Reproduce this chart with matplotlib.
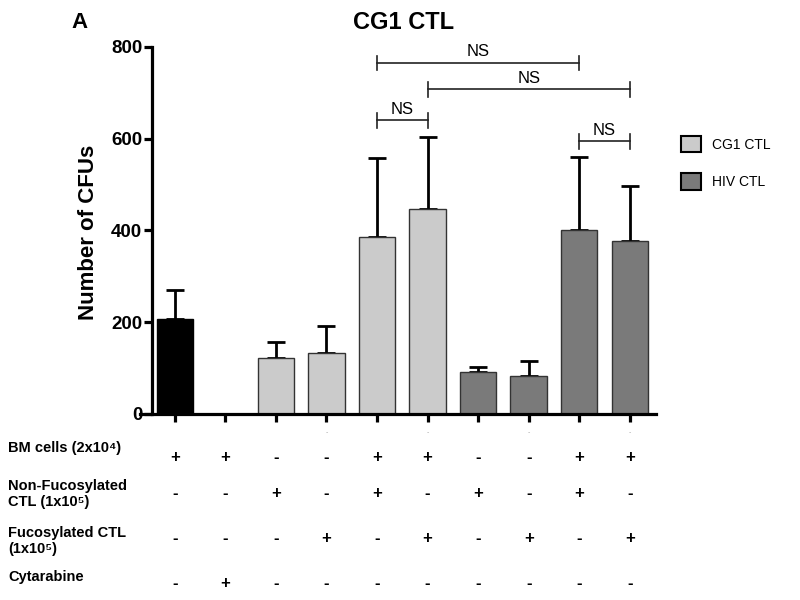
import matplotlib
matplotlib.use('Agg')
import matplotlib.pyplot as plt
import matplotlib.transforms as mtransforms
from matplotlib.patches import Patch
import numpy as np

plt.rcParams['font.family'] = ['Liberation Sans', 'DejaVu Sans']

# datos
medias = [208, 0, 122, 132, 386, 446, 92, 82, 400, 378]
errores = [63, 0, 36, 59, 172, 157, 10, 33, 161, 120]
grupos = ['ctrl', 'ctrl', 'CG1 CTL', 'CG1 CTL', 'CG1 CTL', 'CG1 CTL',
          'HIV CTL', 'HIV CTL', 'HIV CTL', 'HIV CTL']
colores = {'ctrl': '#000000', 'CG1 CTL': '#cbcbcb', 'HIV CTL': '#7a7a7a'}

# comparaciones (barra i, barra j, altura)
comparaciones = [(4, 8, 765, 'NS'), (5, 9, 708, 'NS'),
                 (4, 5, 640, 'NS'), (8, 9, 594, 'NS')]

filas = ['BM cells (2x10⁴)', 'Non-Fucosylated\nCTL (1x10⁵)',
         'Fucosylated CTL\n(1x10⁵)', 'Cytarabine']
signos = [
    ['+', '+', '-', '-', '+', '+', '-', '-', '+', '+'],
    ['-', '-', '+', '-', '+', '-', '+', '-', '+', '-'],
    ['-', '-', '-', '+', '-', '+', '-', '+', '-', '+'],
    ['-', '+', '-', '-', '-', '-', '-', '-', '-', '-'],
]
y_filas = [0.253, 0.177, 0.099, 0.038]
y_signos = [0.237, 0.178, 0.103, 0.028]

fig = plt.figure(figsize=(8, 6), dpi=100)
ax = fig.add_axes([0.175, 0.31, 0.645, 0.6117])

x = np.arange(len(medias))
for i in x:
    c = colores[grupos[i]]
    ax.bar(i, medias[i], width=0.72, color=c,
           edgecolor='#000000' if grupos[i] == 'ctrl' else '#333333', linewidth=1.0, zorder=2)
    if errores[i] > 0:
        ax.errorbar(i, medias[i], yerr=[[0], [errores[i]]], fmt='none', ecolor='black',
                    elinewidth=2, capsize=6.5, capthick=2, zorder=1)

ax.set_xlim(-0.69, 9.52)
ax.set_ylim(0, 800)
ax.set_yticks([0, 200, 400, 600, 800])
ax.set_xticks(x)
ax.set_xticklabels([])
ax.spines['top'].set_visible(False)
ax.spines['right'].set_visible(False)
ax.spines['left'].set_position(('data', -0.455))
ax.spines['left'].set_linewidth(2.3)
ax.spines['bottom'].set_linewidth(2.3)
ax.tick_params(axis='y', length=6, width=2.3, labelsize=13.5, pad=1)
ax.tick_params(axis='x', length=6, width=2.3)
for t in ax.get_yticklabels():
    t.set_fontweight('bold')
ax.set_ylabel('Number of CFUs', fontsize=16, fontweight='bold')
ax.yaxis.set_label_coords(-0.079, 0.495)

# corchetes NS
for i, j, h, txt in comparaciones:
    ax.plot([i, j], [h, h], color='#222222', lw=1.2, clip_on=False)
    for k in (i, j):
        ax.plot([k, k], [h - 16, h + 16], color='#222222', lw=1.2, clip_on=False)
    ax.text((i + j) / 2, h + 8, txt, ha='center', va='bottom', fontsize=12)

# marcas grises bajo los ticks
for k in (3, 5, 7, 9):
    ax.text(k, -40, '-', ha='center', va='center', fontsize=5, color='#aaaaaa')

fig.text(0.505, 0.962, 'CG1 CTL', ha='center', va='center', fontsize=17, fontweight='bold')
fig.text(0.1, 0.962, 'A', ha='center', va='center', fontsize=16, fontweight='bold')

leyenda = [Patch(facecolor=colores['CG1 CTL'], edgecolor='black', linewidth=1.5, label='CG1 CTL'),
           Patch(facecolor=colores['HIV CTL'], edgecolor='black', linewidth=1.5, label='HIV CTL')]
fig.legend(handles=leyenda, loc='upper left', bbox_to_anchor=(0.835, 0.795), frameon=False,
           fontsize=10, handlelength=1.5, handleheight=1.5, labelspacing=1.5, handletextpad=0.8)

# tabla de condiciones
trans = mtransforms.blended_transform_factory(ax.transData, fig.transFigure)
for r, nombre in enumerate(filas):
    fig.text(0.01, y_filas[r], nombre, ha='left', va='center', fontsize=10.5, fontweight='bold',
             linespacing=1.2)
    for i, s in enumerate(signos[r]):
        ax.text(i, y_signos[r], s, transform=trans, ha='center', va='center',
                fontsize=12, fontweight='bold', clip_on=False)

fig.savefig('out.png', dpi=100)
